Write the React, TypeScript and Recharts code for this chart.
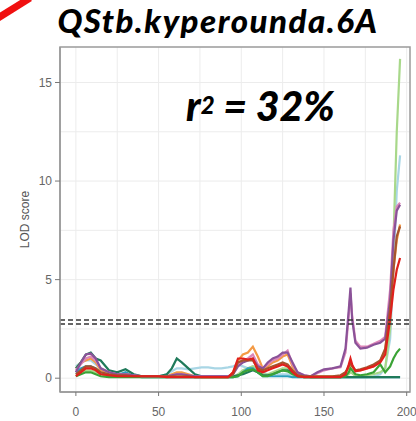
import React from 'react';
import { LineChart, Line, XAxis, YAxis, CartesianGrid, ReferenceLine, ReferenceArea } from 'recharts';

const positions = [0, 3, 6, 9, 12, 15, 20, 25, 30, 35, 40, 45, 50, 55, 58, 61, 64, 68, 72, 76, 80, 84, 88, 92, 95, 98, 101, 104, 107, 110, 113, 116, 119, 122, 125, 128, 131, 134, 138, 142, 146, 150, 155, 160, 163, 165, 166, 167, 169, 172, 176, 180, 184, 187, 190, 192, 194, 196];

const lightBlue = [0.6, 0.8, 0.9, 0.9, 0.7, 0.5, 0.3, 0.25, 0.2, 0.15, 0.1, 0.1, 0.1, 0.2, 0.35, 0.5, 0.5, 0.45, 0.5, 0.55, 0.55, 0.5, 0.5, 0.55, 0.6, 0.7, 0.6, 0.5, 0.6, 0.5, 0.3, 0.2, 0.2, 0.2, 0.2, 0.2, 0.1, 0.05, 0.05, 0.05, 0.05, 0.05, 0.05, 0.05, 0.05, 0.05, 0.05, 0.05, 0.05, 0.05, 0.05, 0.1, 0.2, 0.5, 2.0, 5.5, 9.5, 11.3];
const lightGreen = [0.2, 0.3, 0.4, 0.4, 0.3, 0.2, 0.1, 0.1, 0.1, 0.1, 0.05, 0.05, 0.05, 0.05, 0.1, 0.2, 0.2, 0.1, 0.05, 0.05, 0.05, 0.05, 0.05, 0.05, 0.05, 0.2, 0.4, 0.5, 0.6, 0.4, 0.2, 0.2, 0.3, 0.4, 0.5, 0.5, 0.3, 0.1, 0.05, 0.05, 0.05, 0.05, 0.05, 0.05, 0.1, 0.2, 0.3, 0.25, 0.1, 0.1, 0.15, 0.2, 0.3, 0.5, 2.5, 7.0, 12.5, 16.2];
const teal = [0.3, 0.5, 0.6, 0.6, 0.5, 0.3, 0.2, 0.15, 0.3, 0.1, 0.05, 0.05, 0.05, 0.05, 0.05, 0.05, 0.05, 0.05, 0.05, 0.05, 0.05, 0.05, 0.05, 0.05, 0.05, 0.1, 0.3, 0.5, 0.5, 0.3, 0.1, 0.1, 0.1, 0.1, 0.1, 0.1, 0.05, 0.05, 0.05, 0.05, 0.05, 0.05, 0.05, 0.05, 0.05, 0.05, 0.05, 0.05, 0.05, 0.05, 0.05, 0.05, 0.05, 0.05, 0.05, 0.05, 0.05, 0.05];
const orange = [0.5, 0.8, 0.9, 1.0, 0.8, 0.4, 0.3, 0.2, 0.2, 0.15, 0.1, 0.1, 0.1, 0.1, 0.2, 0.3, 0.3, 0.2, 0.1, 0.05, 0.05, 0.05, 0.05, 0.05, 0.3, 0.9, 1.2, 1.3, 1.6, 1.1, 0.5, 0.6, 0.8, 0.9, 1.1, 1.2, 0.6, 0.2, 0.1, 0.1, 0.1, 0.1, 0.1, 0.1, 0.3, 0.5, 0.7, 0.6, 0.4, 0.4, 0.5, 0.6, 0.9, 1.4, 3.5, 5.5, 7.0, 7.8];
const darkGreen = [0.5, 0.8, 1.2, 1.3, 1.0, 0.9, 0.4, 0.3, 0.45, 0.2, 0.1, 0.1, 0.1, 0.2, 0.5, 1.0, 0.8, 0.5, 0.2, 0.1, 0.1, 0.1, 0.1, 0.1, 0.1, 0.15, 0.2, 0.3, 0.4, 0.3, 0.15, 0.15, 0.2, 0.3, 0.4, 0.4, 0.3, 0.15, 0.1, 0.05, 0.05, 0.05, 0.05, 0.05, 0.05, 0.05, 0.05, 0.05, 0.05, 0.05, 0.05, 0.05, 0.05, 0.05, 0.05, 0.05, 0.05, 0.05];
const green = [0.1, 0.2, 0.3, 0.3, 0.2, 0.1, 0.05, 0.05, 0.05, 0.05, 0.05, 0.05, 0.05, 0.05, 0.05, 0.05, 0.05, 0.05, 0.05, 0.05, 0.05, 0.05, 0.05, 0.05, 0.05, 0.1, 0.3, 0.4, 0.45, 0.3, 0.1, 0.1, 0.2, 0.3, 0.4, 0.35, 0.2, 0.1, 0.05, 0.05, 0.05, 0.05, 0.05, 0.05, 0.1, 0.3, 0.5, 0.4, 0.2, 0.15, 0.2, 0.3, 0.7, 0.3, 0.6, 1.0, 1.3, 1.5];
const purple = [0.3, 0.8, 1.2, 1.25, 1.0, 0.5, 0.3, 0.2, 0.2, 0.15, 0.1, 0.1, 0.1, 0.1, 0.15, 0.2, 0.2, 0.15, 0.1, 0.1, 0.1, 0.1, 0.1, 0.1, 0.2, 0.6, 0.8, 0.9, 1.0, 0.6, 0.5, 0.8, 1.0, 1.1, 1.3, 1.3, 0.8, 0.3, 0.15, 0.1, 0.3, 0.45, 0.5, 0.6, 1.5, 3.5, 4.6, 3.0, 1.8, 1.5, 1.55, 1.7, 1.8, 2.0, 4.0, 7.0, 8.5, 8.8];
const pink = [0.4, 0.7, 1.0, 1.1, 0.9, 0.5, 0.3, 0.2, 0.2, 0.15, 0.1, 0.1, 0.1, 0.1, 0.15, 0.2, 0.2, 0.15, 0.1, 0.1, 0.1, 0.1, 0.1, 0.1, 0.2, 0.7, 0.9, 1.0, 1.2, 0.7, 0.5, 0.7, 0.9, 1.0, 1.2, 1.4, 0.7, 0.3, 0.15, 0.1, 0.25, 0.4, 0.5, 0.55, 1.3, 3.2, 4.3, 3.2, 1.9, 1.6, 1.6, 1.75, 1.9, 2.1, 4.5, 7.5, 8.7, 8.9];
const brown = [0.2, 0.4, 0.6, 0.6, 0.5, 0.3, 0.2, 0.15, 0.15, 0.1, 0.1, 0.1, 0.1, 0.1, 0.1, 0.1, 0.1, 0.1, 0.05, 0.05, 0.05, 0.05, 0.05, 0.05, 0.2, 0.8, 0.9, 0.9, 0.9, 0.5, 0.4, 0.5, 0.6, 0.7, 0.8, 0.7, 0.4, 0.15, 0.1, 0.1, 0.1, 0.1, 0.1, 0.15, 0.3, 0.6, 0.8, 0.6, 0.4, 0.45, 0.55, 0.7, 0.9, 1.5, 3.5, 5.5, 7.2, 7.7];
const red = [0.1, 0.3, 0.5, 0.5, 0.4, 0.2, 0.15, 0.1, 0.1, 0.1, 0.1, 0.1, 0.1, 0.05, 0.05, 0.05, 0.05, 0.05, 0.05, 0.05, 0.05, 0.05, 0.05, 0.05, 0.3, 1.0, 1.0, 0.95, 1.0, 0.4, 0.3, 0.4, 0.5, 0.6, 0.7, 0.6, 0.3, 0.1, 0.05, 0.05, 0.05, 0.05, 0.05, 0.05, 0.2, 0.7, 1.0, 0.7, 0.35, 0.4, 0.5, 0.6, 0.8, 1.2, 3.0, 4.5, 5.5, 6.1];

const thresholds = [2.95, 2.75];
const xTicks = [0, 50, 100, 150, 200];
const yTicks = [0, 5, 10, 15];
const xGrid = [0, 25, 50, 75, 100, 125, 150, 175, 200];
const yGrid = [0, 2.5, 5, 7.5, 10, 12.5, 15];

const seriesList = [
  { key: 'lightBlue', values: lightBlue, color: '#a9d6e5' },
  { key: 'lightGreen', values: lightGreen, color: '#a8d88a' },
  { key: 'teal', values: teal, color: '#2a9fbc' },
  { key: 'orange', values: orange, color: '#f39a45' },
  { key: 'darkGreen', values: darkGreen, color: '#1f7a5a' },
  { key: 'green', values: green, color: '#3aa335' },
  { key: 'pink', values: pink, color: '#dd86b8' },
  { key: 'purple', values: purple, color: '#8a5298' },
  { key: 'brown', values: brown, color: '#a5542e' },
  { key: 'red', values: red, color: '#e0201c' },
];

const data = positions.map((x, i) => {
  const row: Record<string, number> = { x };
  seriesList.forEach((s) => {
    row[s.key] = s.values[i];
  });
  return row;
});

const X_DOMAIN: [number, number] = [-9.6, 202];
const Y_DOMAIN: [number, number] = [-0.7, 16.8];

const YLabel = (props: any) => {
  const vb = props.viewBox || {};
  const cy = (vb.y || 0) + (vb.height || 0) / 2;
  return (
    <text
      x={29}
      y={cy}
      transform={`rotate(-90, 29, ${cy})`}
      textAnchor="middle"
      fontFamily="Arial, 'Liberation Sans', sans-serif"
      fontSize={12}
      fill="#555"
    >
      LOD score
    </text>
  );
};

export default function App() {
  return (
    <div style={{ position: 'absolute', left: 0, top: 0, width: 416, height: 421, background: '#fff', overflow: 'hidden' }}>
      <LineChart
        width={416}
        height={421}
        data={data}
        margin={{ top: 47, right: 6, bottom: 0, left: 0 }}
      >
        <CartesianGrid verticalValues={xGrid} horizontalValues={yGrid} stroke="#ececec" strokeWidth={1} />
        <XAxis
          dataKey="x"
          type="number"
          domain={X_DOMAIN}
          ticks={xTicks}
          allowDataOverflow
          height={29}
          tickSize={4}
          tickMargin={11}
          axisLine={{ stroke: '#9a9a9a', strokeWidth: 1.5 }}
          tickLine={{ stroke: '#777' }}
          tick={{ fontSize: 12, fill: '#666', fontFamily: "Arial, 'Liberation Sans', sans-serif" }}
        />
        <YAxis
          type="number"
          domain={Y_DOMAIN}
          ticks={yTicks}
          allowDataOverflow
          width={60}
          tickSize={5}
          tickMargin={3}
          axisLine={{ stroke: '#9a9a9a', strokeWidth: 1.5 }}
          tickLine={{ stroke: '#777' }}
          tick={{ fontSize: 12, fill: '#666', fontFamily: "Arial, 'Liberation Sans', sans-serif" }}
          label={<YLabel />}
        />
        <ReferenceArea
          x1={X_DOMAIN[0]}
          x2={X_DOMAIN[1]}
          y1={Y_DOMAIN[0]}
          y2={Y_DOMAIN[1]}
          fill="none"
          stroke="#9a9a9a"
          strokeWidth={1.5}
          ifOverflow="visible"
        />
        {seriesList.map((s) => (
          <Line
            key={s.key}
            dataKey={s.key}
            type="linear"
            stroke={s.color}
            strokeWidth={2.2}
            dot={false}
            isAnimationActive={false}
          />
        ))}
        {thresholds.map((t) => (
          <ReferenceLine key={t} y={t} stroke="#333" strokeWidth={1.4} strokeDasharray="5 3" />
        ))}
      </LineChart>
      <div
        style={{
          position: 'absolute',
          left: 0,
          top: -1,
          width: 436,
          textAlign: 'center',
          fontFamily: "Lato, 'Open Sans', sans-serif",
          fontWeight: 900,
          fontStyle: 'italic',
          fontSize: 33,
          letterSpacing: 1.5,
          lineHeight: '42px',
          color: '#000',
        }}
      >
        QStb.kyperounda.6A
      </div>
      <div
        style={{
          position: 'absolute',
          left: 186,
          top: 82,
          fontFamily: "Lato, 'Open Sans', sans-serif",
          fontWeight: 900,
          fontStyle: 'italic',
          fontSize: 41,
          lineHeight: '48px',
          color: '#000',
          whiteSpace: 'nowrap',
        }}
      >
        r<sup style={{ fontSize: 24, verticalAlign: 'top', position: 'relative', top: -1 }}>2</sup> = 32%
      </div>
      <svg style={{ position: 'absolute', left: 0, top: 0 }} width={40} height={30}>
        <line x1={-2} y1={18} x2={30} y2={-2} stroke="#f01010" strokeWidth={7} />
      </svg>
    </div>
  );
}
